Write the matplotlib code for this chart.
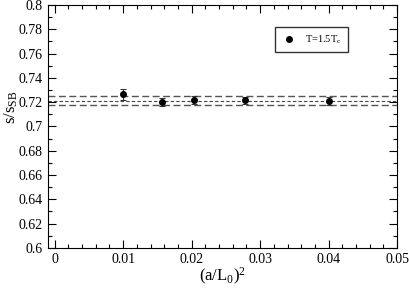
import numpy as np
import matplotlib.pyplot as plt
from matplotlib.ticker import MultipleLocator
from matplotlib.lines import Line2D

plt.rcParams['font.family'] = ['Liberation Serif', 'DejaVu Serif']
plt.rcParams['mathtext.fontset'] = 'custom'
plt.rcParams['mathtext.rm'] = 'Liberation Serif'
plt.rcParams['mathtext.it'] = 'Liberation Serif'

# data
x = [0.01, 0.0156, 0.0204, 0.0278, 0.04]
y = [0.7265, 0.7202, 0.7218, 0.7215, 0.7210]
yerr = [0.0044, 0.0033, 0.0030, 0.0030, 0.0033]

# fit band
band_mid = 0.7210
band_lo = 0.7177
band_hi = 0.7253

fig = plt.figure(figsize=(4.09, 2.91), dpi=100)
ax = fig.add_axes([0.117, 0.148, 0.854, 0.835])

ax.axhline(band_hi, color='#555555', lw=1.0, ls=(0, (5, 2.5)))
ax.axhline(band_lo, color='#555555', lw=1.0, ls=(0, (5, 2.5)))
ax.axhline(band_mid, color='#444444', lw=0.8, ls=(0, (3, 2)))

ax.errorbar(x, y, yerr=yerr, fmt='o', color='black', ms=4, elinewidth=0.8,
            ecolor='#333333', capsize=2, capthick=0.8)

ax.set_xlim(-0.001, 0.05)
ax.set_ylim(0.6, 0.8)
ax.xaxis.set_minor_locator(MultipleLocator(0.002))
ax.yaxis.set_minor_locator(MultipleLocator(0.01))
ax.set_xticks([0, 0.01, 0.02, 0.03, 0.04, 0.05])
ax.set_xticklabels(['0', '0.01', '0.02', '0.03', '0.04', '0.05'])
ax.set_yticks(np.arange(0.6, 0.801, 0.02))
ax.set_yticklabels(['0.6', '0.62', '0.64', '0.66', '0.68', '0.7', '0.72',
                    '0.74', '0.76', '0.78', '0.8'])
ax.tick_params(which='both', direction='in', top=True, right=True, labelsize=10)
ax.tick_params(which='major', length=6, width=0.8)
ax.tick_params(which='minor', length=3, width=0.8)

ax.set_xlabel(r'(a/L$_0$)$^2$', fontsize=12, labelpad=0)
ax.set_ylabel(r's/s$_{\rm SB}$', fontsize=12)
ax.yaxis.set_label_coords(-0.08, 0.58)

handle = Line2D([], [], marker='o', color='black', ls='none', ms=4)
ax.legend([handle], [r'T=1.5T$_{\rm c}$'], loc='upper right',
          bbox_to_anchor=(0.875, 0.93), fontsize=7.5, frameon=True,
          fancybox=False, edgecolor='black', handlelength=1.5,
          borderpad=0.6, numpoints=1)

fig.savefig('out.png', dpi=100)
